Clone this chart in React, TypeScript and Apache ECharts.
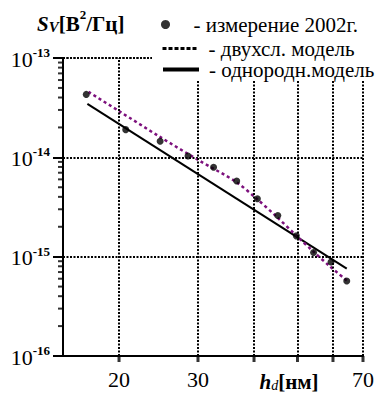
import React, { useEffect, useRef } from "react";
import * as echarts from "echarts";

// measured points (2002)
const measX = [16.9, 20.7, 24.7, 28.5, 32.5, 36.6, 40.7, 45.2, 49.7, 54.3, 59.4, 64.4];
const measY = [4.3e-14, 1.9e-14, 1.45e-14, 1.03e-14, 7.96e-15, 5.78e-15, 3.83e-15, 2.6e-15, 1.62e-15, 1.1e-15, 8.85e-16, 5.69e-16];
// two-layer model curve
const twoLayerX = [17.1, 20, 24.6, 30.2, 36.5, 40.5, 44.9, 49.7, 54.2, 59.0, 64.4];
const twoLayerY = [4.56e-14, 2.92e-14, 1.62e-14, 9.27e-15, 5.65e-15, 3.85e-15, 2.53e-15, 1.63e-15, 1.13e-15, 8.02e-16, 5.76e-16];
// homogeneous model line
const homoX = [17, 64.4];
const homoY = [3.46e-14, 7.59e-16];

const xMin = 15;
const xMax = 70;
const yMin = 1e-16;
const yMax = 1e-13;
const xGridValues = [20, 30, 40, 50, 60, 70];
const xLabelledValues = [20, 30, 70];
const yMinorMultipliers = [2, 3, 4, 5, 6, 7, 8, 9];
const yMinorDecades = [1e-16, 1e-15, 1e-14];

const seriesNames = ["измерение 2002г.", "двухсл. модель", "однородн.модель"];

const SERIF = "Liberation Serif";
const PURPLE = "#7d117d";

export default function App() {
  const ref = useRef<HTMLDivElement>(null);
  useEffect(() => {
    document.body.style.margin = "0";
    const chart = echarts.init(ref.current!, null, { renderer: "svg" });

    const minorTicks: number[][] = [];
    yMinorDecades.forEach((d) => yMinorMultipliers.forEach((m) => minorTicks.push([xMin, m * d])));

    const legendBase = {
      orient: "horizontal",
      left: 161,
      padding: 0,
      itemWidth: 36,
      itemHeight: 9,
      formatter: "- {name}",
      textStyle: { fontFamily: SERIF, fontSize: 21, color: "#000", padding: [0, 0, 0, 5] },
      selectedMode: false,
      zlevel: 1,
      z: 110,
    };
    const hiddenSymbol = { color: "rgba(0,0,0,0)", borderColor: "rgba(0,0,0,0)", borderWidth: 0 };

    chart.setOption({
      animation: false,
      backgroundColor: "#fff",
      grid: { left: 63, top: 58, width: 300, height: 301 },
      title: {
        left: 37,
        top: 8,
        padding: 0,
        text: "{si|S}{vi|V}{b|[B}{sup|2}{b|/Гц]}",
        textStyle: {
          rich: {
            si: { fontFamily: SERIF, fontSize: 21, fontWeight: "bold", fontStyle: "italic", color: "#000", lineHeight: 26, verticalAlign: "bottom" },
            vi: { fontFamily: SERIF, fontSize: 15, fontStyle: "italic", color: "#000", lineHeight: 16, verticalAlign: "bottom" },
            b: { fontFamily: SERIF, fontSize: 21, fontWeight: "bold", color: "#000", lineHeight: 26, verticalAlign: "bottom" },
            sup: { fontFamily: SERIF, fontSize: 13, fontWeight: "bold", color: "#000", lineHeight: 14, verticalAlign: "top" },
          },
        },
      },
      graphic: {
        elements: [
          { type: "rect", left: 152, top: 0, z: 100, zlevel: 1, shape: { width: 233, height: 81 }, style: { fill: "#fff" }, silent: true },
        ],
      },
      legend: [
        { ...legendBase, top: 14, data: [{ name: seriesNames[0], icon: "circle", itemStyle: { color: "#000" } }] },
        { ...legendBase, top: 38, data: [{ name: seriesNames[1], itemStyle: hiddenSymbol, lineStyle: { color: "#000", width: 3, type: [4, 2] } }] },
        { ...legendBase, top: 59, data: [{ name: seriesNames[2], itemStyle: hiddenSymbol, lineStyle: { color: "#000", width: 4, type: "solid" } }] },
      ],
      xAxis: {
        type: "log",
        logBase: 10,
        min: xMin,
        max: xMax,
        axisLine: { show: true, lineStyle: { color: "#000", width: 2 } },
        axisTick: { show: false },
        axisLabel: { show: false },
        splitLine: { show: false },
        minorTick: { show: false },
        name: "{hi|h}{di|d}{b|[нм]}",
        nameLocation: "middle",
        nameGap: 12,
        nameTextStyle: {
          padding: [0, 0, 0, 152],
          rich: {
            hi: { fontFamily: SERIF, fontSize: 21, fontWeight: "bold", fontStyle: "italic", color: "#000", lineHeight: 24, verticalAlign: "bottom" },
            di: { fontFamily: SERIF, fontSize: 14, fontStyle: "italic", color: "#000", lineHeight: 14, verticalAlign: "bottom" },
            b: { fontFamily: SERIF, fontSize: 21, fontWeight: "bold", color: "#000", lineHeight: 24, verticalAlign: "bottom" },
          },
        },
      },
      yAxis: {
        type: "log",
        logBase: 10,
        min: yMin,
        max: yMax,
        axisLine: { show: true, lineStyle: { color: "#000", width: 2 } },
        axisTick: { show: true, inside: false, length: 10, lineStyle: { color: "#000", width: 2 } },
        axisLabel: {
          margin: 13,
          formatter: (v: number) => `{b|10}{s|${Math.round(Math.log10(v))}}`,
          rich: {
            b: { fontFamily: SERIF, fontSize: 22, color: "#000", lineHeight: 24, verticalAlign: "bottom" },
            s: { fontFamily: SERIF, fontSize: 13, fontWeight: "bold", color: "#000", lineHeight: 14, verticalAlign: "top" },
          },
        },
        splitLine: { show: true, lineStyle: { color: "#000", width: 2, type: [2, 1.5] } },
      },
      series: [
        {
          name: "xgrid",
          type: "scatter",
          data: xGridValues.map((x) => [x, yMin]),
          symbol: "rect",
          symbolSize: [3, 6],
          symbolOffset: [0, 3],
          itemStyle: { color: "#000" },
          clip: false,
          silent: true,
          markLine: {
            silent: true,
            symbol: ["none", "none"],
            lineStyle: { color: "#000", width: 2, type: [2, 1.5] },
            label: {
              show: true,
              position: "start",
              distance: 12,
              fontFamily: SERIF,
              fontSize: 22,
              color: "#000",
              formatter: (p: any) => (xLabelledValues.includes(p.value) ? String(p.value) : ""),
            },
            data: xGridValues.map((x) => ({ xAxis: x })),
          },
        },
        {
          name: "yminor",
          type: "scatter",
          data: minorTicks,
          symbol: "rect",
          symbolSize: [5, 2],
          symbolOffset: [-2.5, 0],
          itemStyle: { color: "#000" },
          clip: false,
          silent: true,
        },
        {
          name: seriesNames[2],
          type: "line",
          data: homoX.map((x, i) => [x, homoY[i]]),
          symbol: "none",
          lineStyle: { color: "#000", width: 2 },
          itemStyle: { color: "#000" },
          z: 3,
        },
        {
          name: seriesNames[1],
          type: "line",
          data: twoLayerX.map((x, i) => [x, twoLayerY[i]]),
          symbol: "none",
          smooth: 0.3,
          lineStyle: { color: PURPLE, width: 2.5, type: [3, 3] },
          itemStyle: { color: PURPLE },
          z: 4,
        },
        {
          name: seriesNames[0],
          type: "scatter",
          data: measX.map((x, i) => [x, measY[i]]),
          symbol: "circle",
          symbolSize: 7,
          itemStyle: { color: "#000" },
          z: 5,
        },
      ],
    });
    return () => chart.dispose();
  }, []);
  return <div ref={ref} style={{ width: 385, height: 397 }} />;
}
